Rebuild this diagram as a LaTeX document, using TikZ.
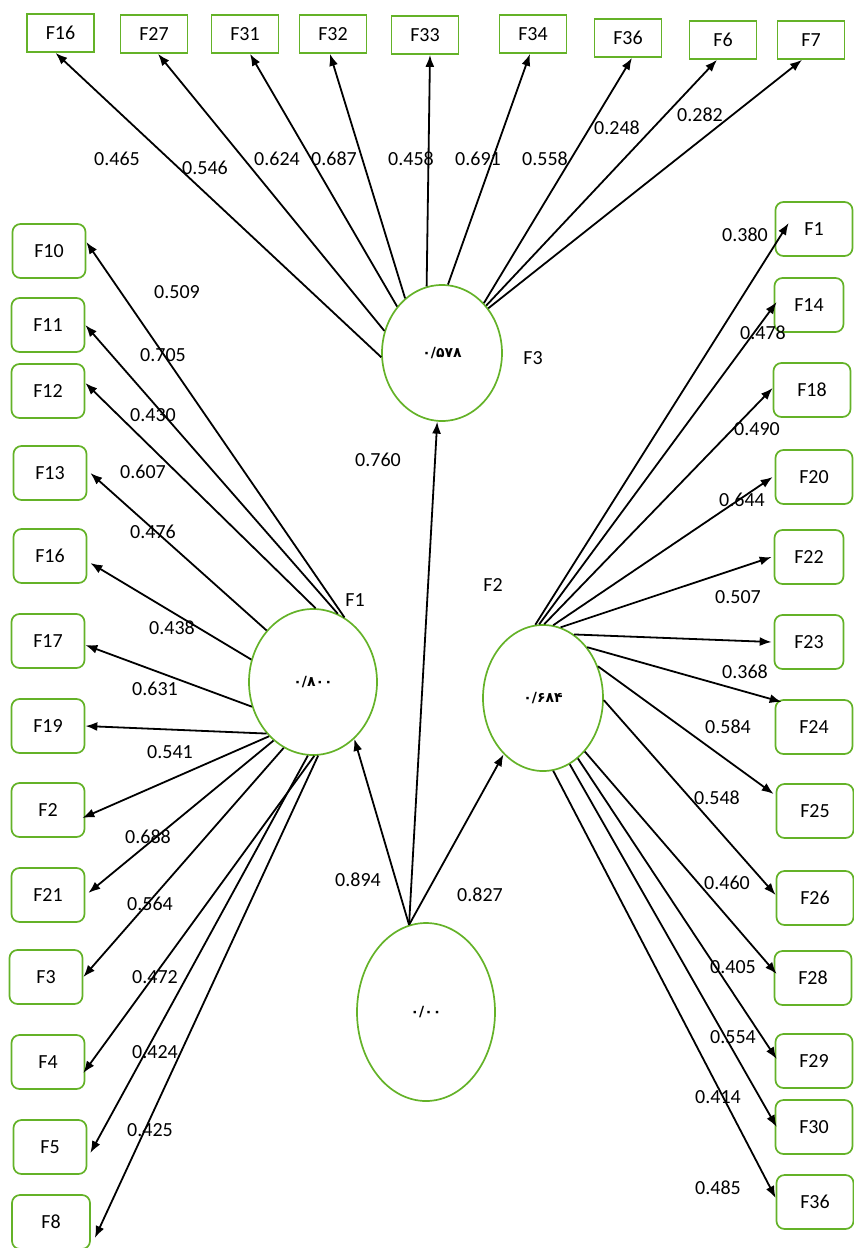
\documentclass[tikz,border=0pt]{standalone}
\usepackage{fontspec}
\setmainfont{Carlito}
\newfontfamily\perfont{DejaVu Sans}
\usetikzlibrary{shapes.geometric,arrows.meta}
\definecolor{bxgreen}{RGB}{100,178,40}
\begin{document}
\begin{tikzpicture}[x=1pt,y=-1pt,
  topbox/.style={draw=bxgreen,line width=1.7pt,minimum width=67pt,minimum height=38pt,inner sep=0pt,font=\fontsize{20}{23}\selectfont},
  sidebox/.style={draw=bxgreen,line width=1.7pt,rounded corners=8pt,minimum width=73pt,minimum height=54pt,inner sep=0pt,font=\fontsize{20}{23}\selectfont},
  rbox/.style={sidebox,minimum width=77pt},
  latent/.style={ellipse,draw=bxgreen,line width=1.7pt,inner sep=0pt,font=\perfont\bfseries\fontsize{14}{16}\selectfont},
  val/.style={font=\fontsize{20}{23}\selectfont,inner sep=0pt},
  arr/.style={-{Latex[length=12pt,width=9pt]},line width=1.8pt}
]
\useasboundingbox (0,0) rectangle (854,1248);

% latent ellipses
\node[latent,minimum width=120pt,minimum height=136pt] (e3) at (442,353) {۰/۵۷۸};
\node[latent,minimum width=128pt,minimum height=146pt] (e1) at (313,682) {۰/۸۰۰};
\node[latent,minimum width=120pt,minimum height=146pt] (e2) at (543,698) {۰/۶۸۴};
\node[latent,minimum width=138pt,minimum height=178pt] (e0) at (426,1012) {۰/۰۰};

% ellipse names
\node[val] (n1) at (355,600) {F1};
\node[val] (n2) at (493,585) {F2};
\node[val] (n3) at (533,358) {F3};

% top boxes
\node[topbox] (t16) at (60.5,33) {F16};
\node[topbox] (t27) at (154,34) {F27};
\node[topbox] (t31) at (245,34) {F31};
\node[topbox] (t32) at (333,34) {F32};
\node[topbox] (t33) at (425,35) {F33};
\node[topbox] (t34) at (533,34) {F34};
\node[topbox] (t36) at (628,38) {F36};
\node[topbox] (t6) at (723,40) {F6};
\node[topbox] (t7) at (811,40) {F7};

% left boxes
\node[sidebox] (l10) at (49,251) {F10};
\node[sidebox] (l11) at (48,325) {F11};
\node[sidebox] (l12) at (48,391) {F12};
\node[sidebox] (l13) at (50,473) {F13};
\node[sidebox] (l16) at (50,556) {F16};
\node[sidebox] (l17) at (48,641) {F17};
\node[sidebox] (l19) at (48,726) {F19};
\node[sidebox] (l2) at (48,810) {F2};
\node[sidebox] (l21) at (48,895) {F21};
\node[sidebox] (l3) at (46,977) {F3};
\node[sidebox] (l4) at (48,1062) {F4};
\node[sidebox] (l5) at (50,1147) {F5};
\node[sidebox,minimum width=78pt] (l8) at (51,1222) {F8};

% right boxes
\node[rbox] (r1) at (814,229) {F1};
\node[rbox,minimum width=69pt] (r14) at (809,305) {F14};
\node[rbox] (r18) at (812,390) {F18};
\node[rbox] (r20) at (814,477) {F20};
\node[rbox,minimum width=69pt] (r22) at (809,557) {F22};
\node[rbox,minimum width=69pt] (r23) at (809,642) {F23};
\node[rbox] (r24) at (814,727) {F24};
\node[rbox] (r25) at (815,811) {F25};
\node[rbox] (r26) at (815,898) {F26};
\node[rbox] (r28) at (813,978) {F28};
\node[rbox] (r29) at (814,1061) {F29};
\node[rbox] (r30) at (814,1127) {F30};
\node[rbox] (r36) at (815,1202) {F36};

% structural arrows
\draw[arr] (e0.101) -- (e3.266);
\draw[arr] (e0.101) -- (e1.-54);
\draw[arr] (e0.101) -- (e2.-125);

% F3 arrows
\draw[arr] (e3.184) -- ([xshift=-5pt]t16.south);
\draw[arr] (e3.159) -- ([xshift=4pt]t27.south);
\draw[arr] (e3.134) -- ([xshift=5pt]t31.south);
\draw[arr] (e3.124) -- ([xshift=-3pt]t32.south);
\draw[arr] (e3.103) -- ([xshift=5pt]t33.south);
\draw[arr] (e3.85) -- ([xshift=-3pt]t34.south);
\draw[arr] (e3.50) -- ([xshift=4pt]t36.south);
\draw[arr] (e3.47) -- ([xshift=-6pt]t6.south);
\draw[arr] (e3.44) -- ([xshift=-9pt]t7.south);

% F1 arrows
\draw[arr] (e1.64) -- ([yshift=9pt]l10.east);
\draw[arr] (e1.70) -- (l11.east);
\draw[arr] (e1.88) -- ([yshift=8pt]l12.east);
\draw[arr] (e1.132) -- ([xshift=3pt]l13.east);
\draw[arr] (e1.160) -- ([xshift=3pt,yshift=-7pt]l16.east);
\draw[arr] (e1.202) -- ([yshift=-4pt]l17.east);
\draw[arr] (e1.228) -- (l19.east);
\draw[arr] (e1.231) -- ([xshift=-3pt,yshift=-8pt]l2.east);
\draw[arr] (e1.236) -- ([xshift=3pt,yshift=2pt]l21.east);
\draw[arr] (e1.246) -- (l3.east);
\draw[arr] (e1.271) -- ([xshift=-2pt,yshift=-11pt]l4.east);
\draw[arr] (e1.266) -- ([xshift=3pt,yshift=-6pt]l5.east);
\draw[arr] (e1.274) -- ([xshift=4pt,yshift=-16pt]l8.east);

% F2 arrows
\draw[arr] (e2.96) -- ([xshift=14pt,yshift=6pt]r1.west);
\draw[arr] (e2.93) -- ([xshift=3pt,yshift=3pt]r14.west);
\draw[arr] (e2.89) -- ([yshift=2pt]r18.west);
\draw[arr] (e2.82) -- ([xshift=-2pt]r20.west);
\draw[arr] (e2.76) -- ([xshift=-2pt]r22.west);
\draw[arr] (e2.64) -- ([xshift=-2pt]r23.west);
\draw[arr] (e2.49) -- ([xshift=7pt,yshift=25pt]r24.west);
\draw[arr] (e2.30) -- ([xshift=-2pt,yshift=17pt]r25.west);
\draw[arr] (e2.-2) -- ([yshift=3pt]r26.west);
\draw[arr] (e2.-52) -- ([xshift=3pt,yshift=4pt]r28.west);
\draw[arr] (e2.-60) -- ([xshift=2pt,yshift=2pt]r29.west);
\draw[arr] (e2.-68) -- ([xshift=2pt]r30.west);
\draw[arr] (e2.-82) -- ([yshift=4pt]r36.west);

% coefficient labels
\node[val] (v1) at (117,159) {0.465};
\node[val] (v2) at (205,168) {0.546};
\node[val] (v3) at (277,159) {0.624};
\node[val] (v4) at (334,159) {0.687};
\node[val] (v5) at (411,159) {0.458};
\node[val] (v6) at (478,159) {0.691};
\node[val] (v7) at (545,159) {0.558};
\node[val] (v8) at (617,128) {0.248};
\node[val] (v9) at (700,115) {0.282};

\node[val] (w1) at (177,292) {0.509};
\node[val] (w2) at (163,355) {0.705};
\node[val] (w3) at (153,415) {0.430};
\node[val] (w4) at (143,472) {0.607};
\node[val] (w5) at (153,532) {0.476};
\node[val] (w6) at (172,628) {0.438};
\node[val] (w7) at (155,689) {0.631};
\node[val] (w8) at (170,752) {0.541};
\node[val] (w9) at (148,837) {0.688};
\node[val] (w10) at (150,904) {0.564};
\node[val] (w11) at (155,977) {0.472};
\node[val] (w12) at (155,1052) {0.424};
\node[val] (w13) at (150,1130) {0.425};

\node[val] (u1) at (745,235) {0.380};
\node[val] (u2) at (763,333) {0.478};
\node[val] (u3) at (757,429) {0.490};
\node[val] (u4) at (742,500) {0.644};
\node[val] (u5) at (738,597) {0.507};
\node[val] (u6) at (745,672) {0.368};
\node[val] (u7) at (728,727) {0.584};
\node[val] (u8) at (717,798) {0.548};
\node[val] (u9) at (727,883) {0.460};
\node[val] (u10) at (733,967) {0.405};
\node[val] (u11) at (733,1037) {0.554};
\node[val] (u12) at (718,1097) {0.414};
\node[val] (u13) at (718,1188) {0.485};

\node[val] (s1) at (378,460) {0.760};
\node[val] (s2) at (358,880) {0.894};
\node[val] (s3) at (480,895) {0.827};
\end{tikzpicture}
\end{document}
